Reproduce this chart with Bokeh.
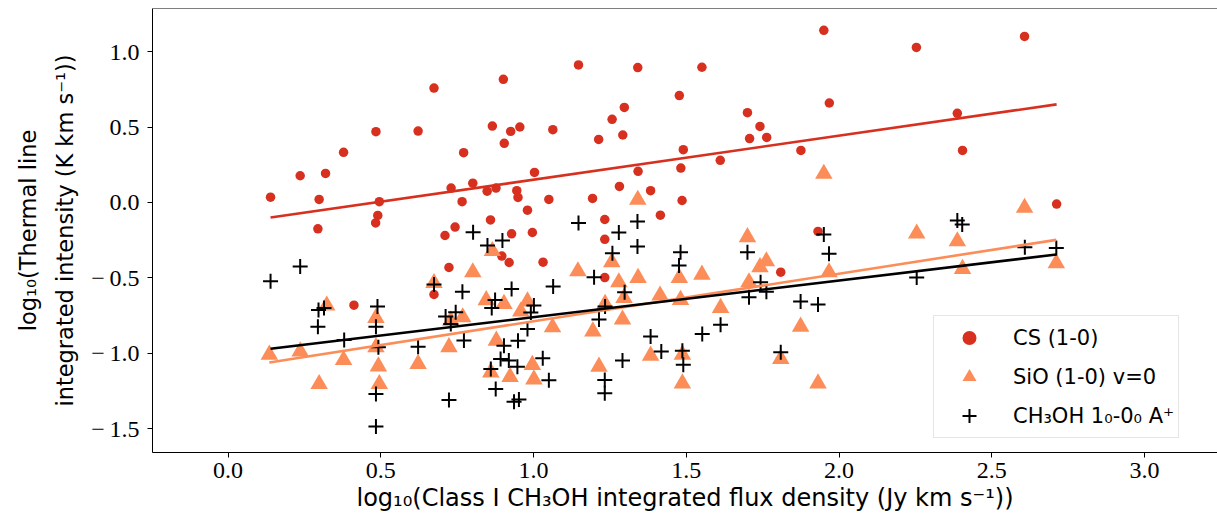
from bokeh.plotting import figure
from bokeh.models import (Range1d, FixedTicker, CustomJSTickFormatter, Legend,
                          LegendItem, Title, Span)
from bokeh.embed import file_html
from bokeh.resources import INLINE

# ---------------- data ----------------
cs_x = [0.139, 0.236, 0.319, 0.298, 0.294, 0.378, 0.412, 0.484, 0.495, 0.490,
        0.483, 0.622, 0.674, 0.674, 0.710, 0.723, 0.730, 0.743, 0.766, 0.771,
        0.801, 0.848, 0.859, 0.877, 0.865, 0.901, 0.904, 0.925, 0.955, 0.896,
        0.920, 0.928, 0.945, 0.949, 0.996, 1.003, 0.980, 1.031, 1.050, 1.063,
        1.147, 1.193, 1.213, 1.233, 1.233, 1.233, 1.257, 1.281, 1.292, 1.297,
        1.341, 1.342, 1.383, 1.415, 1.477, 1.482, 1.490, 1.486, 1.551, 1.611,
        1.700, 1.707, 1.741, 1.763, 1.809, 1.875, 1.931, 1.950, 1.968, 2.253,
        2.387, 2.404, 2.607, 2.712]
cs_y = [0.035, 0.177, 0.192, 0.020, -0.175, 0.332, -0.681, 0.469, 0.005, -0.086,
        -0.136, 0.473, 0.758, -0.610, -0.219, -0.431, 0.095, -0.163, 0.005, 0.330,
        0.128, 0.075, -0.116, 0.095, 0.506, 0.816, 0.392, 0.471, 0.500, -0.355,
        -0.398, -0.208, 0.078, 0.033, -0.199, 0.199, -0.051, -0.396, 0.020, 0.482,
        0.911, 0.027, 0.418, -0.113, -0.244, -0.498, 0.551, 0.106, 0.447, 0.630,
        0.894, 0.206, 0.078, -0.084, 0.708, 0.228, 0.350, 0.013, 0.896, 0.279,
        0.595, 0.423, 0.504, 0.431, -0.462, 0.345, -0.192, 1.141, 0.659, 1.027,
        0.591, 0.345, 1.100, -0.011]

sio_x = [0.135, 0.236, 0.378, 0.298, 0.323, 0.484, 0.484, 0.492, 0.495, 0.622,
         0.674, 0.723, 0.729, 0.768, 0.801, 0.845, 0.865, 0.878, 0.860, 0.903,
         0.923, 0.980, 0.958, 1.062, 0.996, 1.001, 1.700, 1.762, 1.741, 1.145,
         1.256, 1.279, 1.342, 1.477, 1.551, 1.705, 1.967, 1.234, 1.296, 1.414,
         1.481, 1.612, 1.194, 1.291, 1.874, 1.383, 1.487, 1.214, 1.487, 1.809,
         1.931, 1.950, 1.341, 2.254, 2.387, 2.404, 2.711, 2.607]
sio_y = [-1.009, -0.987, -1.044, -1.203, -0.683, -0.765, -0.960, -1.086, -1.203, -1.070,
         -0.534, -0.959, -0.783, -0.761, -0.463, -0.647, -0.322, -0.916, -1.126, -0.672,
         -1.157, -0.656, -0.723, -0.827, -1.076, -1.173, -0.230, -0.390, -0.429, -0.456,
         -0.396, -0.529, -0.500, -0.500, -0.478, -0.529, -0.463, -0.672, -0.632, -0.617,
         -0.646, -0.699, -0.854, -0.776, -0.823, -1.015, -1.009, -1.088, -1.199, -1.037,
         -1.199, 0.190, 0.018, -0.206, -0.257, -0.440, -0.403, -0.035]

ch3oh_x = [0.139, 0.236, 0.296, 0.314, 0.294, 0.380, 0.489, 0.484, 0.492, 0.484,
           0.484, 0.622, 0.674, 0.767, 0.802, 0.849, 0.898, 0.928, 1.064, 0.874,
           0.863, 0.712, 0.745, 0.729, 1.001, 0.991, 0.980, 0.772, 0.903, 0.949,
           0.892, 0.919, 0.947, 1.030, 0.860, 1.050, 0.876, 0.723, 0.936, 0.952,
           1.147, 1.340, 1.279, 1.258, 1.340, 1.481, 1.476, 1.700, 1.198, 1.298,
           1.234, 1.214, 1.743, 1.705, 1.762, 1.874, 1.931, 1.967, 1.950, 1.383,
           1.418, 1.552, 1.612, 1.487, 1.490, 1.291, 1.233, 1.233, 1.809, 2.387,
           2.403, 2.608, 2.711, 2.254]
ch3oh_y = [-0.522, -0.425, -0.712, -0.699, -0.823, -0.911, -0.690, -0.823, -0.960, -1.269,
           -1.484, -0.956, -0.544, -0.591, -0.197, -0.285, -0.252, -0.573, -0.557, -0.646,
           -0.699, -0.756, -0.728, -0.805, -0.683, -0.730, -0.838, -0.914, -0.949, -0.916,
           -1.037, -1.048, -1.088, -1.032, -1.104, -1.179, -1.236, -1.309, -1.321, -1.305,
           -0.136, -0.126, -0.199, -0.336, -0.292, -0.330, -0.418, -0.330, -0.496, -0.595,
           -0.690, -0.776, -0.529, -0.628, -0.591, -0.657, -0.677, -0.340, -0.212, -0.889,
           -0.987, -0.871, -0.810, -0.982, -1.075, -1.048, -1.177, -1.265, -0.993, -0.119,
           -0.146, -0.297, -0.301, -0.498]

# fitted lines (end points)
cs_fit_x = [0.139, 2.712]
cs_fit_y = [-0.100, 0.650]
sio_fit_x = [0.135, 2.711]
sio_fit_y = [-1.060, -0.248]
ch3oh_fit_x = [0.139, 2.711]
ch3oh_fit_y = [-0.969, -0.345]

x_ticks = [0.0, 0.5, 1.0, 1.5, 2.0, 2.5, 3.0]
y_ticks = [-1.5, -1.0, -0.5, 0.0, 0.5, 1.0]

legend_labels = ["CS (1-0)", "SiO (1-0) v=0", "CH\u2083OH 1\u2080-0\u2080 A\u207a"]
x_label = "log\u2081\u2080(Class I CH\u2083OH integrated flux density (Jy km s\u207b\u00b9))"
y_label_1 = "log\u2081\u2080(Thermal line"
y_label_2 = "integrated intensity (K km s\u207b\u00b9))"

# ---------------- styling ----------------
RED = "#d7301f"
ORANGE = "#fc8d59"
BLACK = "#000000"
SANS = "DejaVu Sans"
SERIF = "Liberation Serif"

X0, X1 = -0.2474, 3.2386
Y0, Y1 = -1.657, 1.2853

p = figure(frame_width=1065, frame_height=444,
           min_border_left=152, min_border_right=0, min_border_top=8,
           min_border_bottom=67,
           x_range=Range1d(X0, X1), y_range=Range1d(Y0, Y1),
           output_backend="svg", toolbar_location=None)
p.background_fill_color = "white"
p.border_fill_color = "white"
p.grid.grid_line_color = None
p.outline_line_color = None

r_cs = p.scatter(cs_x, cs_y, marker="circle", size=9.5, fill_color=RED,
                 line_color=None)
r_sio = p.scatter(sio_x, sio_y, marker="triangle", size=17.5, fill_color=ORANGE,
                  line_color=None)
r_ch = p.scatter(ch3oh_x, ch3oh_y, marker="cross", size=15, line_color=BLACK,
                 line_width=2)

p.line(cs_fit_x, cs_fit_y, line_color=RED, line_width=2.6)
p.line(sio_fit_x, sio_fit_y, line_color=ORANGE, line_width=2.6)
p.line(ch3oh_fit_x, ch3oh_fit_y, line_color=BLACK, line_width=2.6)

p.add_layout(Span(location=Y1, dimension="width", line_color="black",
                  line_width=1))

fmt = CustomJSTickFormatter(
    code="return tick.toFixed(1).replace('-', '\\u2212\\u2009');")
p.xaxis.ticker = FixedTicker(ticks=x_ticks)
p.yaxis.ticker = FixedTicker(ticks=y_ticks)
for ax in (p.xaxis[0], p.yaxis[0]):
    ax.formatter = fmt
    ax.minor_tick_line_color = None
    ax.major_tick_in = 0
    ax.major_tick_out = 5
    ax.major_tick_line_color = "black"
    ax.axis_line_color = "black"
    ax.axis_line_width = 1
    ax.major_label_text_font = SERIF
    ax.major_label_text_font_size = "24px"
    ax.major_label_text_color = "black"
    ax.axis_label_text_font = SANS
    ax.axis_label_text_font_style = "normal"
    ax.axis_label_text_color = "black"

p.xaxis.axis_label = x_label
p.xaxis.axis_label_text_font_size = "24px"
p.xaxis.major_label_standoff = 5
p.xaxis.axis_label_standoff = 3
p.yaxis.axis_label = y_label_2
p.yaxis.axis_label_text_font_size = "22.5px"
p.yaxis.major_label_standoff = 8
p.yaxis.axis_label_standoff = 10

t1 = Title(text=y_label_1, align="center", text_font=SANS,
           text_font_size="22.5px", text_font_style="normal", text_color="black",
           standoff=17)
p.add_layout(t1, "left")

legend = Legend(items=[LegendItem(label=legend_labels[0], renderers=[r_cs]),
                       LegendItem(label=legend_labels[1], renderers=[r_sio]),
                       LegendItem(label=legend_labels[2], renderers=[r_ch])],
                location=(781, 14))
legend.label_text_font = SANS
legend.label_text_font_size = "21px"
legend.label_text_color = "black"
legend.glyph_width = 62
legend.glyph_height = 35
legend.label_height = 35
legend.label_standoff = 13
legend.spacing = 4
legend.padding = 4
legend.margin = 0
legend.border_line_color = "#cccccc"
legend.border_line_width = 1
legend.background_fill_alpha = 0.8
p.add_layout(legend)

open("out.html", "w").write(file_html(p, INLINE))
